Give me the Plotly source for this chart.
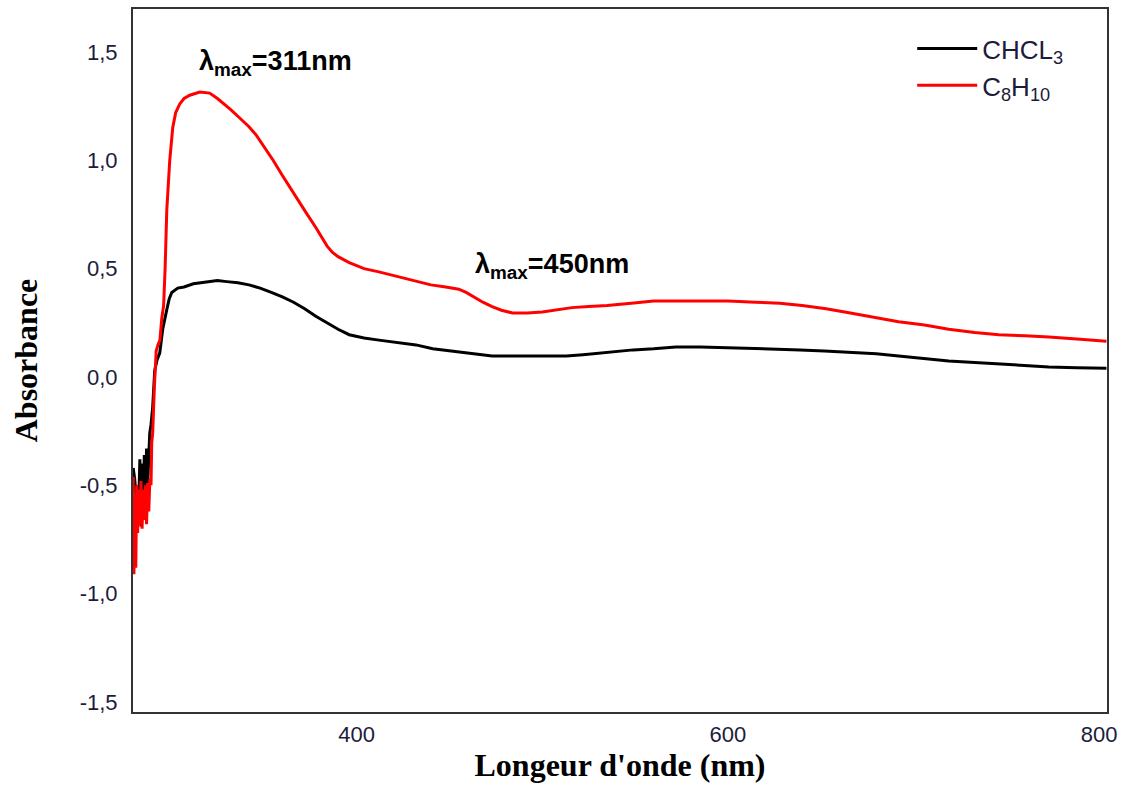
import plotly.graph_objects as go

# UV-Vis absorbance spectra in two solvents
wl_chcl3 = [279.6, 280.4, 281.2, 282.0, 282.6, 283.2, 283.8, 284.4, 285.0, 285.6,
            286.2, 286.8, 287.4, 288.0, 288.5, 289.2, 290.1, 291.2, 292.5, 293.9,
            295.5, 297.7, 299.0, 300.4, 303.6, 307, 312, 316, 321, 325,
            330, 336, 342, 348, 354, 360, 366, 372, 378, 384,
            390, 396, 404, 412, 423, 432, 441, 450, 459, 466,
            473, 485, 500, 513, 522, 531, 540, 549, 560, 572,
            585, 599, 620, 639, 652, 666, 680, 692, 706, 719,
            733, 746, 760, 773, 788, 804]
abs_chcl3 = [-0.42, -0.47, -0.55, -0.50, -0.58, -0.38, -0.69, -0.40, -0.61, -0.36,
             -0.55, -0.33, -0.50, -0.30, -0.26, -0.22, -0.14, 0.03, 0.08, 0.11,
             0.22, 0.31, 0.36, 0.39, 0.41, 0.415, 0.43, 0.435, 0.44, 0.445,
             0.44, 0.435, 0.425, 0.41, 0.39, 0.37, 0.345, 0.315, 0.28, 0.25,
             0.22, 0.195, 0.18, 0.17, 0.157, 0.148, 0.13, 0.12, 0.11, 0.103,
             0.097, 0.097, 0.097, 0.097, 0.103, 0.11, 0.118, 0.125, 0.13, 0.138,
             0.138, 0.135, 0.13, 0.125, 0.12, 0.115, 0.107, 0.097, 0.085, 0.074,
             0.067, 0.06, 0.053, 0.046, 0.042, 0.04]

wl_c8h10 = [279.6, 280.0, 280.5, 281.0, 281.5, 282.0, 282.6, 283.2, 283.8, 284.4,
            285.0, 285.6, 286.2, 286.8, 287.4, 288.0, 288.6, 289.2, 289.6, 290.1,
            291.0, 292.0, 293.0, 294.0, 295.0, 296.0, 296.8, 297.7, 299.3, 300.9,
            302.5, 304.7, 307, 310.1, 315.5, 320.8, 325, 328, 332, 337,
            342, 346, 350, 355, 360, 364, 369, 373, 378, 381,
            384, 387, 390, 396, 404, 412, 423, 431, 440, 448,
            455, 459, 463, 468, 473, 478, 484, 492, 500, 508,
            516, 525, 535, 548, 560, 572, 585, 600, 615, 628,
            640, 653, 666, 680, 692, 706, 719, 733, 746, 760,
            773, 788, 804]
abs_c8h10 = [-0.46, -0.91, -0.55, -0.88, -0.50, -0.72, -0.52, -0.68, -0.48, -0.70,
             -0.52, -0.66, -0.50, -0.68, -0.49, -0.62, -0.47, -0.50, -0.30, -0.26,
             -0.05, 0.12, 0.15, 0.17, 0.27, 0.33, 0.50, 0.77, 1.00, 1.15,
             1.22, 1.26, 1.285, 1.30, 1.315, 1.31, 1.285, 1.265, 1.235, 1.195,
             1.155, 1.115, 1.065, 1.00, 0.93, 0.875, 0.81, 0.755, 0.69, 0.645,
             0.605, 0.575, 0.555, 0.528, 0.50, 0.485, 0.46, 0.445, 0.425, 0.415,
             0.405, 0.39, 0.37, 0.345, 0.325, 0.308, 0.295, 0.295, 0.30, 0.31,
             0.32, 0.325, 0.33, 0.34, 0.35, 0.35, 0.35, 0.35, 0.345, 0.34,
             0.33, 0.315, 0.295, 0.275, 0.255, 0.24, 0.22, 0.205, 0.195, 0.19,
             0.185, 0.175, 0.165]

x_ticks = [400, 600, 800]
y_ticks = [-1.5, -1.0, -0.5, 0.0, 0.5, 1.0, 1.5]
y_tick_text = ["-1,5", "-1,0", "-0,5", "0,0", "0,5", "1,0", "1,5"]

peak_labels = ["311", "450"]
peak_pos = [(313.8, 1.45), (462.5, 0.51)]

tick_font = dict(family="Liberation Sans, Arial", size=22, color="#1c1c3a")
title_font = dict(family="Liberation Serif, Times New Roman", size=32, color="#000000")

fig = go.Figure()
fig.add_trace(go.Scatter(x=wl_chcl3, y=abs_chcl3, mode="lines",
                         name="CHCL<sub>3</sub>",
                         line=dict(color="#000000", width=3)))
fig.add_trace(go.Scatter(x=wl_c8h10, y=abs_c8h10, mode="lines",
                         name="C<sub>8</sub>H<sub>10</sub>",
                         line=dict(color="#ff0000", width=3)))

for lab, (px, py) in zip(peak_labels, peak_pos):
    fig.add_annotation(x=px, y=py, xref="x", yref="y",
                       text=f"<b>λ<sub>max</sub>={lab}nm</b>",
                       showarrow=False, xanchor="left", yanchor="middle",
                       font=dict(family="Liberation Sans, Arial", size=27, color="#000000"))

fig.update_layout(
    width=1126, height=785,
    margin=dict(l=133, r=19, t=9, b=73),
    paper_bgcolor="white", plot_bgcolor="white",
    showlegend=True,
    legend=dict(x=0.80, y=0.977, xanchor="left", yanchor="top",
                bgcolor="rgba(0,0,0,0)", borderwidth=0,
                font=dict(family="Liberation Sans, Arial", size=26, color="#1c1c3a"),
                itemwidth=60),
)
fig.update_xaxes(range=[279.5, 804.3], tickvals=x_ticks,
                 ticktext=[str(v) for v in x_ticks],
                 showgrid=False, zeroline=False, ticks="", automargin=False,
                 showline=True, mirror=True, linecolor="#333333", linewidth=2,
                 tickfont=tick_font, ticklabelstandoff=2,
                 title=dict(text="<b>Longeur d'onde (nm)</b>", font=title_font, standoff=6))
fig.update_yaxes(range=[-1.546, 1.698], tickvals=y_ticks, ticktext=y_tick_text,
                 showgrid=False, zeroline=False, ticks="", automargin=False,
                 showline=True, mirror=True, linecolor="#333333", linewidth=2,
                 tickfont=tick_font, ticklabelstandoff=9,
                 title=dict(text="<b>Absorbance</b>", font=title_font, standoff=32))

fig.write_html("out.html")
